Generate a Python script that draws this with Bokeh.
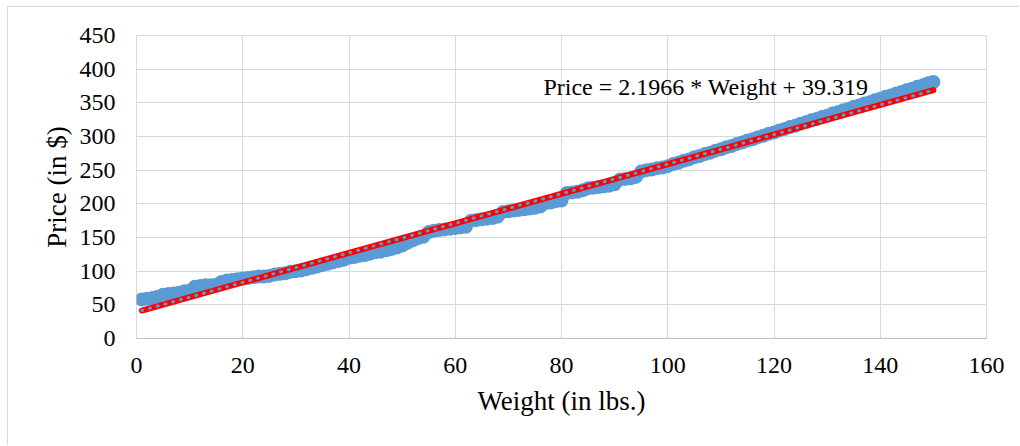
from bokeh.plotting import figure
from bokeh.models import Range1d, FixedTicker, Label
from bokeh.embed import file_html
from bokeh.resources import INLINE

# ---- data ----
weights = list(range(1, 151))
prices = [
    58, 59, 60, 62, 65, 66, 67, 68, 70, 71,
    77, 78, 79, 79, 80, 84, 86, 87, 88, 89,
    90, 91, 92, 92, 93, 95, 96, 97, 99, 100,
    101, 103, 105, 107, 109, 111, 113, 115, 117, 120,
    121, 123, 124, 126, 128, 129, 131, 133, 135, 138,
    142, 146, 149, 151, 158, 160, 161, 162, 163, 164,
    165, 166, 175, 176, 177, 178, 179, 181, 188, 189,
    190, 191, 192, 193, 194, 196, 201, 202, 204, 205,
    216, 217, 218, 220, 223, 224, 225, 226, 227, 229,
    236, 237, 238, 240, 248, 250, 251, 253, 254, 256,
    259, 261, 264, 266, 269, 271, 274, 276, 279, 281,
    284, 286, 289, 291, 294, 296, 299, 301, 304, 306,
    309, 311, 314, 316, 319, 321, 324, 326, 329, 331,
    334, 336, 339, 341, 344, 346, 349, 351, 354, 356,
    359, 361, 364, 366, 369, 371, 374, 376, 379, 381,
]
trend_slope = 2.1966
trend_intercept = 39.319
equation_text = "Price = 2.1966 * Weight + 39.319"
x_ticks = [0, 20, 40, 60, 80, 100, 120, 140, 160]
y_ticks = [0, 50, 100, 150, 200, 250, 300, 350, 400, 450]
x_title = "Weight (in lbs.)"
y_title = "Price (in $)"

FONT = "Liberation Serif"
TICK_FONT = "'Liberation Serif', serif"
BLUE = "#5B9BD5"
GRID = "#d9d9d9"

p = figure(width=1012, height=439, output_backend="svg", toolbar_location=None,
           x_range=Range1d(x_ticks[0], x_ticks[-1]), y_range=Range1d(y_ticks[0], y_ticks[-1]),
           min_border_left=128, min_border_right=34, min_border_top=28, min_border_bottom=108)
p.styles = {"margin-left": "7px", "margin-top": "6px",
            "border-left": "1px solid #d9d9d9", "border-top": "1px solid #d9d9d9"}
p.background_fill_color = "white"
p.border_fill_color = "white"
p.outline_line_color = GRID

# axes
p.xaxis.ticker = FixedTicker(ticks=x_ticks)
p.yaxis.ticker = FixedTicker(ticks=y_ticks)
p.axis.major_tick_line_color = None
p.axis.minor_tick_line_color = None
p.axis.major_tick_out = 0
p.axis.major_label_text_font = TICK_FONT
p.axis.major_label_text_font_size = "24px"
p.axis.major_label_text_color = "#000000"
p.axis.axis_label_text_font = FONT
p.axis.axis_label_text_font_size = "27px"
p.axis.axis_label_text_font_style = "normal"
p.axis.axis_label_text_color = "#000000"
p.xaxis.axis_label = x_title
p.yaxis.axis_label = y_title
p.xaxis.axis_line_color = "#bfbfbf"
p.xaxis.axis_line_width = 1
p.yaxis.axis_line_color = None
p.xaxis.major_label_standoff = 19
p.xaxis.axis_label_standoff = 10
p.yaxis.major_label_standoff = 21
p.yaxis.axis_label_standoff = 5

p.xgrid.grid_line_color = GRID
p.ygrid.grid_line_color = GRID
p.xgrid.grid_line_width = 1
p.ygrid.grid_line_width = 1

# scatter
p.scatter(weights, prices, size=14, fill_color=BLUE, line_color=BLUE, line_width=0)

# trend line
tx = [weights[0], weights[-1]]
ty = [trend_slope * v + trend_intercept for v in tx]
p.line(tx, ty, line_color="#FF0000", line_width=6, line_cap="round")
p.line(tx, ty, line_color=BLUE, line_width=3, line_dash="1 7", line_cap="round")

# equation label
p.add_layout(Label(x=76.6, y=374, text=equation_text, text_font=FONT,
                   text_font_size="24px", text_color="#000000",
                   text_baseline="alphabetic", text_align="left"))

open("out.html", "w").write(file_html(p, INLINE))
